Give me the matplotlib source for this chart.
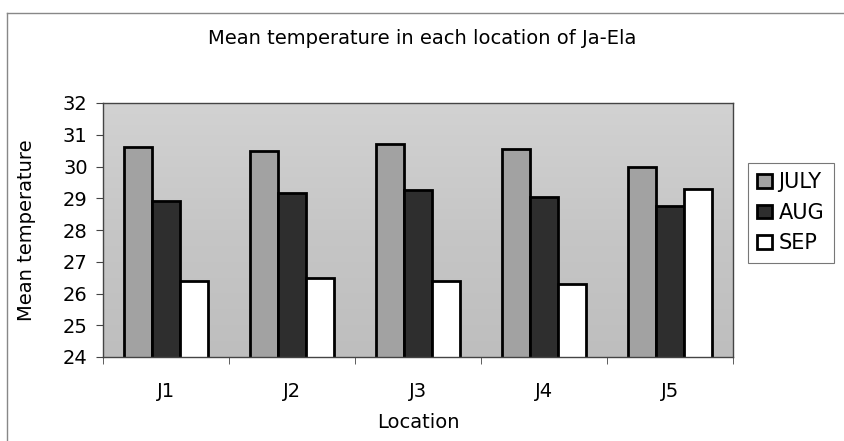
import numpy as np
import matplotlib.pyplot as plt
import matplotlib
from matplotlib.lines import Line2D

matplotlib.rc('font', family='DejaVu Sans', size=14)

locations = ['J1', 'J2', 'J3', 'J4', 'J5']
july = [30.6, 30.5, 30.7, 30.55, 30.0]
aug = [28.9, 29.15, 29.25, 29.05, 28.75]
sep = [26.4, 26.5, 26.4, 26.3, 29.3]

fig = plt.figure(figsize=(8.45, 4.41), dpi=100)
ax = fig.add_axes([103/845, 1-357/441, 630/845, 254/441])

# plot area shading, lighter at the top
grad = np.linspace(0, 1, 256).reshape(-1, 1)
cmap = matplotlib.colors.LinearSegmentedColormap.from_list('bg', ['#bebebe', '#c6c6c6', '#d2d2d2'])
ax.imshow(grad, cmap=cmap, extent=(0, 1, 0, 1), transform=ax.transAxes,
          aspect='auto', origin='lower', zorder=0)

x = np.arange(len(locations))
w = 0.222
ax.bar(x - w, july, w, color='#a2a2a2', edgecolor='black', linewidth=2, label='JULY', zorder=2)
ax.bar(x, aug, w, color='#2e2e2e', edgecolor='black', linewidth=2, label='AUG', zorder=2)
ax.bar(x + w, sep, w, color='white', edgecolor='black', linewidth=2, label='SEP', zorder=2)

ax.set_ylim(24, 32)
ax.set_xlim(-0.5, 4.5)
ax.set_yticks(range(24, 33))
ax.set_xticks(x)
ax.set_xticklabels(locations)
ax.set_xticks(np.arange(-0.5, 5, 1), minor=True)
ax.tick_params(axis='x', which='major', length=0, pad=18)
ax.tick_params(axis='x', which='minor', length=5, color='#444444')
ax.tick_params(axis='y', length=5, color='#444444', pad=6)
for s in ax.spines.values():
    s.set_color('#444444')
    s.set_linewidth(1)

ax.set_xlabel('Location', labelpad=9)
ax.set_ylabel('Mean temperature', labelpad=19)
fig.text(0.5, 1-39/441, 'Mean temperature in each location of Ja-Ela', ha='center', va='center')

leg = ax.legend(loc='upper left', bbox_to_anchor=(748/845, 1-163/441), bbox_transform=fig.transFigure,
                frameon=True, fancybox=False, edgecolor='#555555', fontsize=15,
                handlelength=0.72, handleheight=0.65, handletextpad=0.3,
                labelspacing=0.5, borderpad=0.45, borderaxespad=0)
leg.get_frame().set_linewidth(0.8)

# chart-area border (only top and left edges remain in the scan)
fig.add_artist(Line2D([7/845, 1], [1-13/441, 1-13/441], transform=fig.transFigure, color='#888888', lw=1))
fig.add_artist(Line2D([7/845, 7/845], [0, 1-13/441], transform=fig.transFigure, color='#888888', lw=1))

fig.savefig('out.png', dpi=100)
